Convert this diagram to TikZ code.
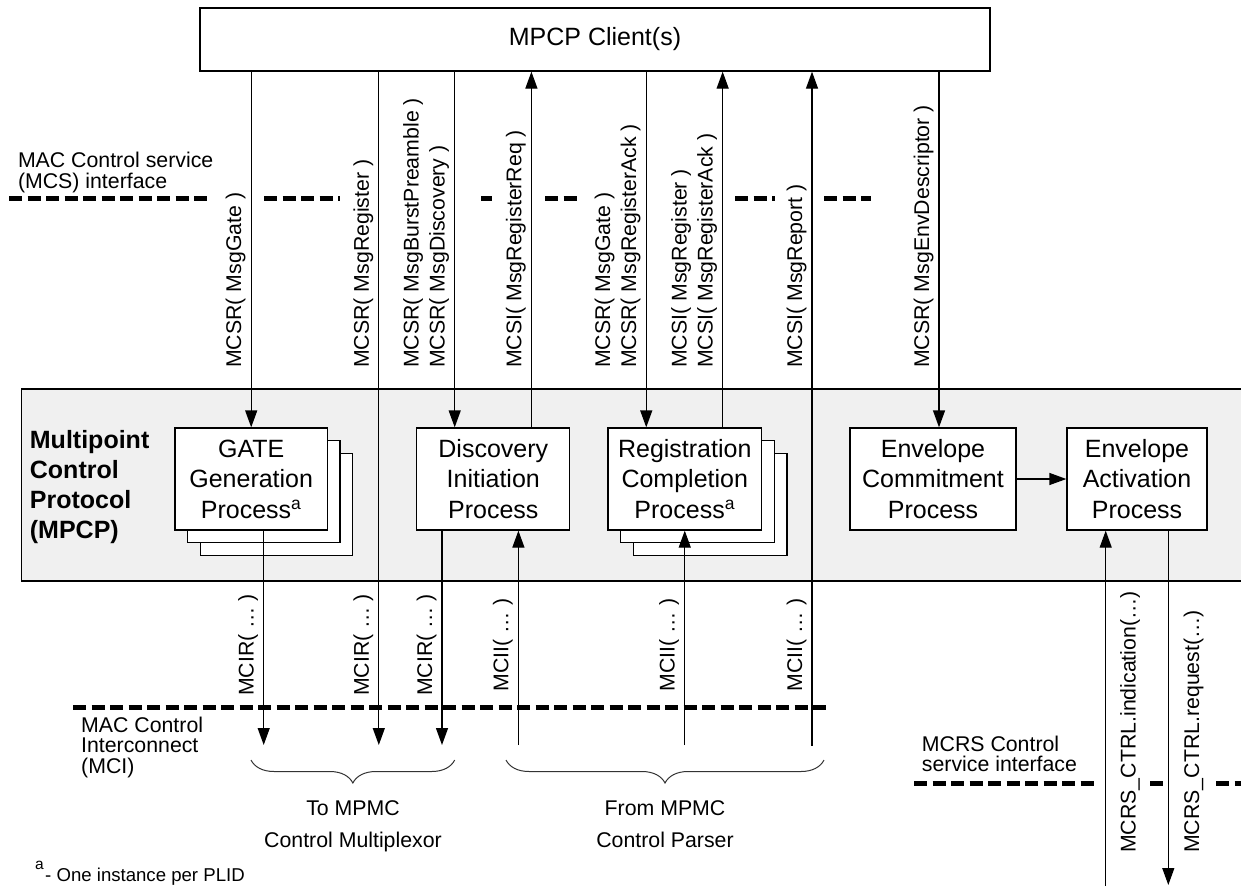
\documentclass[tikz,border=0pt]{standalone}
\usepackage{fontspec}
\setmainfont{Liberation Sans}
\usetikzlibrary{arrows.meta,decorations.pathreplacing}
\newcommand{\lblfont}{\fontsize{21.3}{26}\selectfont}
\newcommand{\boxfont}{\fontsize{25}{30.5}\selectfont}
\newcommand{\iffont}{\fontsize{21.3}{20.8}\selectfont}
\definecolor{panelgray}{RGB}{240,240,240}
\begin{document}
\begin{tikzpicture}[x=1pt,y=-1pt,
  proc/.style={draw,line width=1.3pt,fill=white,inner sep=0pt,align=center,font=\boxfont,minimum height=102pt},
  lbl/.style={rotate=90,inner sep=0pt,anchor=base west,font=\lblfont},
  blbl/.style={rotate=90,inner sep=0pt,anchor=base,font=\lblfont},
  wire/.style={line width=1.3pt},
  arr/.style={wire,-{Triangle[length=17pt,width=12pt]}},
  iface/.style={line width=5.5pt,dash pattern=on 13pt off 5.5pt},
  iftext/.style={anchor=north west,inner sep=0pt,align=left,font=\iffont},
  brc/.style={decorate,decoration={brace,amplitude=23pt},line width=1pt,black!80},
  brtext/.style={anchor=north,inner sep=0pt,align=center,font=\fontsize{21.3}{32}\selectfont},
  shadowbox/.style={wire,fill=white}]
\useasboundingbox (0,0) rectangle (1241,886);

% MPCP panel
\fill[panelgray] (21.7,389) rectangle (1241,581);
\draw[wire] (1241,389) -- (21.7,389) -- (21.7,581) -- (1241,581);

% stacked copies
\draw[shadowbox] (200.4,453.4) rectangle (352.8,555.4);
\draw[shadowbox] (187.7,440.7) rectangle (340.1,542.7);
\draw[shadowbox] (633.4,453.4) rectangle (786.9,555.4);
\draw[shadowbox] (620.7,440.7) rectangle (774.2,542.7);

% nodes
\node[proc,minimum width=790pt,minimum height=63pt] (client) at (595,39.5) {MPCP Client(s)};
\node[proc,minimum width=152.4pt] (gate) at (251.2,479) {GATE\\Generation\\Process\textsuperscript{a}};
\node[proc,minimum width=153pt] (disc) at (493.3,479) {Discovery\\Initiation\\Process};
\node[proc,minimum width=153.5pt] (reg) at (684.75,479) {Registration\\Completion\\Process\textsuperscript{a}};
\node[proc,minimum width=166pt] (comm) at (933,479) {Envelope\\Commitment\\Process};
\node[proc,minimum width=140pt] (act) at (1137,479) {Envelope\\Activation\\Process};

\node[anchor=west,inner sep=0pt,align=left,font=\bfseries\fontsize{25}{30}\selectfont] (mpcp) at (29.7,487.5) {Multipoint\\Control\\Protocol\\(MPCP)};

% interface texts
\node[iftext] (mcs) at (17.8,152) {MAC Control service\\(MCS) interface};
\node[iftext] (mci) at (81,716.5) {MAC Control\\Interconnect\\(MCI)};
\node[iftext] (mcrs) at (921.7,735.5) {MCRS Control\\service interface};

% interface dashed lines
\draw[iface] (9,198.5) -- (210,198.5);
\draw[iface] (264,198.5) -- (340,198.5);
\draw[iface] (481,198.5) -- (492,198.5);
\draw[iface] (545,198.5) -- (582,198.5);
\draw[iface] (735,198.5) -- (775,198.5);
\draw[iface] (824,198.5) -- (871,198.5);
\draw[iface] (73,707.7) -- (831,707.7);
\draw[iface] (914,783.5) -- (1097,783.5);
\draw[iface] (1150,783.5) -- (1163,783.5);
\draw[iface] (1216,783.5) -- (1241,783.5);

% reference coordinates
\coordinate (mciY) at (0,745);
\coordinate (mcrsY) at (0,886);
\coordinate (mcrsEnd) at (0,885);
\coordinate (regLine) at (378.8,745);
\coordinate (rptLine) at (812,745.7);
\coordinate (dIn) at ([xshift=-38.6pt]disc.north);
\coordinate (dOut) at ([xshift=38.1pt]disc.north);
\coordinate (rIn) at ([xshift=-38.5pt]reg.north);
\coordinate (rOut) at ([xshift=37.9pt]reg.north);
\coordinate (cIn) at ([xshift=6pt]comm.north);
\coordinate (gOut) at ([xshift=12.5pt]gate.south);
\coordinate (dOut2) at ([xshift=-51.3pt]disc.south);
\coordinate (dIn2) at ([xshift=25.1pt]disc.south);
\coordinate (aIn) at ([xshift=-31.3pt]act.south);
\coordinate (aOut) at ([xshift=31.3pt]act.south);

% connectors (MCS side)
\draw[arr] (gate.north |- client.south) -- (gate.north);
\draw[arr] (regLine |- client.south) -- (regLine);
\draw[arr] (dIn |- client.south) -- (dIn);
\draw[arr] (dOut) -- (dOut |- client.south);
\draw[arr] (rIn |- client.south) -- (rIn);
\draw[arr] (rOut) -- (rOut |- client.south);
\draw[arr] (rptLine) -- (rptLine |- client.south);
\draw[arr] (cIn |- client.south) -- (cIn);
\draw[arr] (comm) -- (act);

% connectors (MCI / MCRS side)
\draw[arr] (gOut) -- (gOut |- mciY);
\draw[arr] (dOut2) -- (dOut2 |- mciY);
\draw[arr] (dIn2 |- mciY) -- (dIn2);
\draw[arr] (reg.south |- mciY) -- (reg.south);
\draw[arr] (aIn |- mcrsY) -- (aIn);
\draw[arr] (aOut) -- (aOut |- mcrsEnd);

% MCS labels
\node[lbl] (lGate) at (241,368) {MCSR( MsgGate )};
\node[lbl] (lReg) at (368.8,368) {MCSR( MsgRegister )};
\node[lbl] (lBp) at (418.7,368) {MCSR( MsgBurstPreamble )};
\node[lbl] (lDisc) at (444.7,368) {MCSR( MsgDiscovery )};
\node[lbl] (lReq) at (521.4,368) {MCSI( MsgRegisterReq )};
\node[lbl] (lGate2) at (610.2,368) {MCSR( MsgGate )};
\node[lbl] (lAck) at (636.2,368) {MCSR( MsgRegisterAck )};
\node[lbl] (lReg2) at (686.6,368) {MCSI( MsgRegister )};
\node[lbl] (lAck2) at (712.6,368) {MCSI( MsgRegisterAck )};
\node[lbl] (lRpt) at (802,368) {MCSI( MsgReport )};
\node[lbl] (lEnv) at (929,368) {MCSR( MsgEnvDescriptor )};

% MCI labels
\node[blbl] (mcir1) at (253.7,645) {MCIR( … )};
\node[blbl] (mcir2) at (368.8,645) {MCIR( … )};
\node[blbl] (mcir3) at (432,645) {MCIR( … )};
\node[blbl] (mcii1) at (508.4,645) {MCII( … )};
\node[blbl] (mcii2) at (674.6,645) {MCII( … )};
\node[blbl] (mcii3) at (802,645) {MCII( … )};

% MCRS labels
\node[lbl] (lInd) at (1135.5,853) {MCRS\_CTRL.indication(…)};
\node[lbl] (lReqC) at (1199,853) {MCRS\_CTRL.request(…)};

% braces
\coordinate (b1r) at (454.7,760);
\coordinate (b1l) at (251,760);
\coordinate (b2r) at (824,760);
\coordinate (b2l) at (506,760);
\draw[brc] (b1r) -- (b1l);
\draw[brc] (b2r) -- (b2l);
\node[brtext] (tompmc) at (353,800.4) {To MPMC\\Control Multiplexor};
\node[brtext] (frommpmc) at (665,800.4) {From MPMC\\Control Parser};

% footnote
\node[anchor=base west,inner sep=0pt,font=\fontsize{15.5}{18}\selectfont] (fna) at (35,869) {a};
\node[anchor=base west,inner sep=0pt,font=\fontsize{18.6}{22}\selectfont] (fn) at (45,881.5) {- One instance per PLID};
\end{tikzpicture}
\end{document}
